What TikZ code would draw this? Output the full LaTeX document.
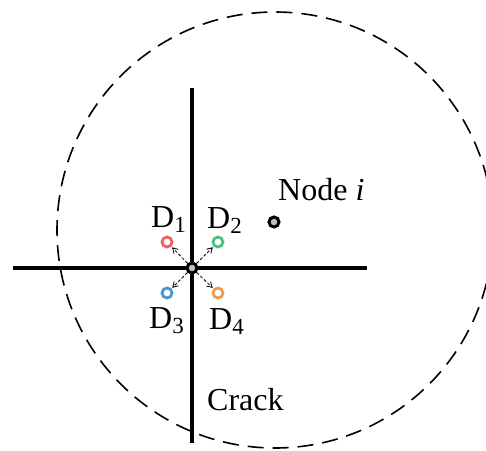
\documentclass[tikz,border=0pt]{standalone}
\usepackage{fontspec}
\setmainfont{Liberation Serif}
\newfontfamily\lserif{Liberation Serif}
\usetikzlibrary{arrows.meta}
\definecolor{dred}{HTML}{F0605F}
\definecolor{dgreen}{HTML}{4CC07C}
\definecolor{dblue}{HTML}{4A94D0}
\definecolor{dorange}{HTML}{EE9A55}
\newcommand{\Dlab}[1]{D\raisebox{-5pt}{\fontsize{23}{23}\selectfont #1}}
\begin{document}
\begin{tikzpicture}[x=1pt,y=-1pt,
  crack/.style={line width=3.8pt},
  bigcirc/.style={line width=1.6pt, dash pattern=on 16pt off 9pt},
  dring/.style={circle, line width=2.8pt, minimum size=10pt, inner sep=0pt, fill=white},
  gring/.style={circle, line width=3pt, draw=black, fill=black!25, minimum size=10pt, inner sep=0pt},
  lab/.style={anchor=base west, inner sep=0pt, font=\lserif\fontsize{32}{38}\selectfont},
  darr/.style={line width=0.8pt, dash pattern=on 3pt off 2pt, -{Straight Barb[length=5pt,width=6pt]}, shorten >=1pt}
]
\clip (0,0) rectangle (486,450);
\fill[white] (0,0) rectangle (486,450);
\node[draw, bigcirc, circle, minimum size=436pt, inner sep=0pt] (region) at (275,230) {};
\coordinate (vt) at (192,88);
\coordinate (vb) at (192,443);
\coordinate (hl) at (13,268);
\coordinate (hr) at (367,268);
\draw[crack] (vt) -- (vb);
\draw[crack] (hl) -- (hr);
\node[dring, draw=dred] (d1) at (167,242) {};
\node[dring, draw=dgreen] (d2) at (218,242) {};
\node[dring, draw=dblue] (d3) at (167,293) {};
\node[dring, draw=dorange] (d4) at (218,293) {};
\node[gring] (c) at (192,268) {};
\node[gring] (ni) at (274,222) {};
\draw[darr] (c) -- (d1);
\draw[darr] (c) -- (d2);
\draw[darr] (c) -- (d3);
\draw[darr] (c) -- (d4);
\node[lab] (l1) at (151,227) {\Dlab{1}};
\node[lab] (l2) at (207,228) {\Dlab{2}};
\node[lab] (l3) at (149,328) {\Dlab{3}};
\node[lab] (l4) at (209,329) {\Dlab{4}};
\node[lab] (lni) at (278,200) {Node \textit{i}};
\node[lab] (lcr) at (207,410) {Crack};
\end{tikzpicture}
\end{document}
